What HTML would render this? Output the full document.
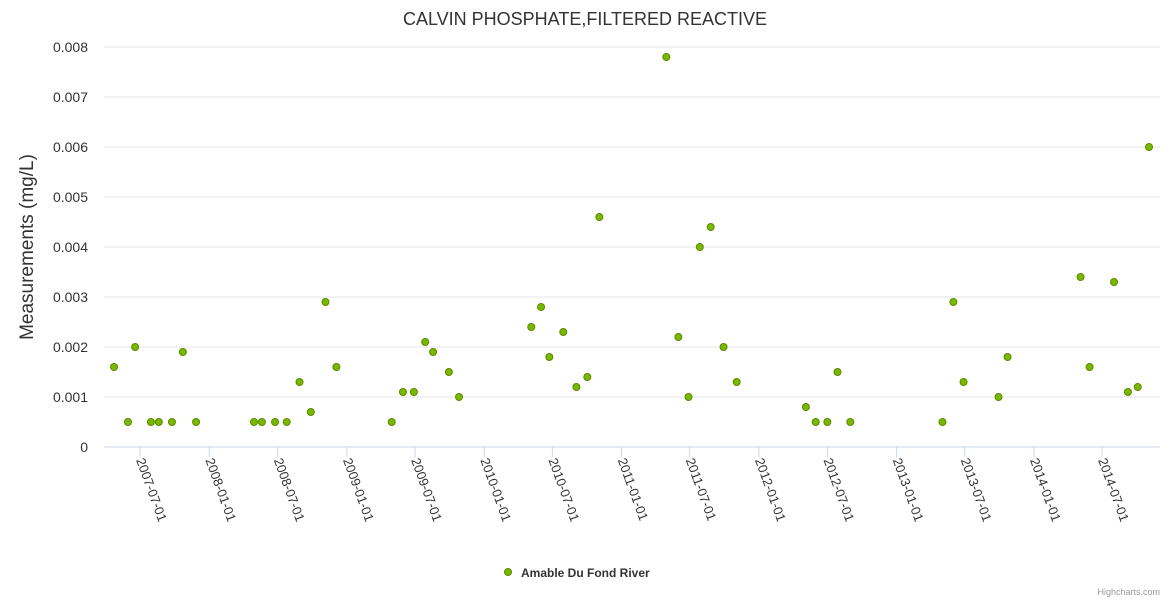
<!DOCTYPE html>
<html><head><meta charset="utf-8">
<style>
body{margin:0;background:#fff;font-family:"Liberation Sans",sans-serif;}
svg{display:block}
</style></head>
<body>
<svg id="chart" width="1170" height="600">
<text x="585" y="25" text-anchor="middle" font-size="18" fill="#333">CALVIN PHOSPHATE,FILTERED REACTIVE</text>
<text transform="translate(33,247) rotate(-90)" text-anchor="middle" font-size="19" fill="#333">Measurements (mg/L)</text>
<g id="grid"></g><g id="xaxis"></g><g id="pts"></g>
<g>
<circle cx="508" cy="572" r="3.5" fill="#7ab800" stroke="#5a8a00" stroke-width="1"/>
<text x="521" y="577" font-size="12" font-weight="bold" fill="#333">Amable Du Fond River</text>
</g>
<text x="1160" y="595" text-anchor="end" font-size="9" fill="#999">Highcharts.com</text>
</svg>
<script>
const dates=["2007-04-23","2007-05-30","2007-06-18","2007-07-30","2007-08-20","2007-09-24","2007-10-23","2007-11-27","2008-04-29","2008-05-20","2008-06-24","2008-07-25","2008-08-28","2008-09-27","2008-11-05","2008-12-04","2009-04-30","2009-05-30","2009-06-28","2009-07-28","2009-08-18","2009-09-29","2009-10-26","2010-05-06","2010-06-01","2010-06-23","2010-07-30","2010-09-03","2010-10-02","2010-11-03","2011-04-30","2011-06-01","2011-06-28","2011-07-28","2011-08-26","2011-09-29","2011-11-03","2012-05-05","2012-05-31","2012-07-01","2012-07-28","2012-08-31","2013-05-03","2013-06-01","2013-06-28","2013-09-29","2013-10-23","2014-05-05","2014-05-29","2014-08-02","2014-09-08","2014-10-04","2014-11-03"];
const values=[0.0016,0.0005,0.002,0.0005,0.0005,0.0005,0.0019,0.0005,0.0005,0.0005,0.0005,0.0005,0.0013,0.0007,0.0029,0.0016,0.0005,0.0011,0.0011,0.0021,0.0019,0.0015,0.001,0.0024,0.0028,0.0018,0.0023,0.0012,0.0014,0.0046,0.0078,0.0022,0.001,0.004,0.0044,0.002,0.0013,0.0008,0.0005,0.0005,0.0015,0.0005,0.0005,0.0029,0.0013,0.001,0.0018,0.0034,0.0016,0.0033,0.0011,0.0012,0.006];
const yTicks=[0,0.001,0.002,0.003,0.004,0.005,0.006,0.007,0.008];
const yLabels=["0","0.001","0.002","0.003","0.004","0.005","0.006","0.007","0.008"];
const xTicks=["2007-07-01","2008-01-01","2008-07-01","2009-01-01","2009-07-01","2010-01-01","2010-07-01","2011-01-01","2011-07-01","2012-01-01","2012-07-01","2013-01-01","2013-07-01","2014-01-01","2014-07-01"];
const NS="http://www.w3.org/2000/svg";
const L=104,R=1160,T=47,B=447;
const d0=Date.parse("2007-07-01"),d1=Date.parse("2014-07-01");
function xs(d){return 140+(Date.parse(d)-d0)/(d1-d0)*(1102-140);}
function ys(v){return B-(v/0.008)*(B-T);}
function mk(tag,a,p){const e=document.createElementNS(NS,tag);for(const k in a)e.setAttribute(k,a[k]);p.appendChild(e);return e;}
const grid=document.getElementById('grid'),xa=document.getElementById('xaxis'),pts=document.getElementById('pts');
yTicks.forEach((v,i)=>{
 const y=ys(v);
 const ln=mk('line',{x1:L,x2:R,y1:y,y2:y,stroke:i===0?'#ccd6eb':'#e6e6e6','stroke-width':1},grid);
 
 
 const t=mk('text',{x:88,y:y+5,'text-anchor':'end','font-size':14,fill:'#333'},grid);
 t.textContent=yLabels[i];
 
 
});
xTicks.forEach(d=>{
 const x=xs(d);
 const tk=mk('line',{x1:x,x2:x,y1:B,y2:B+10,stroke:'#ccd6eb'},xa);
 
 
 const t=mk('text',{x:0,y:0,'font-size':13,fill:'#333',transform:`translate(${x-4},${B+13}) rotate(70)`},xa);
 t.textContent=d;
 
 
});
dates.forEach((d,i)=>{
 const c=mk('circle',{cx:xs(d),cy:ys(values[i]),r:3.5,fill:'#7ab800',stroke:'#5a8a00','stroke-width':1},pts);
 
 
});
</script>
</body></html>
